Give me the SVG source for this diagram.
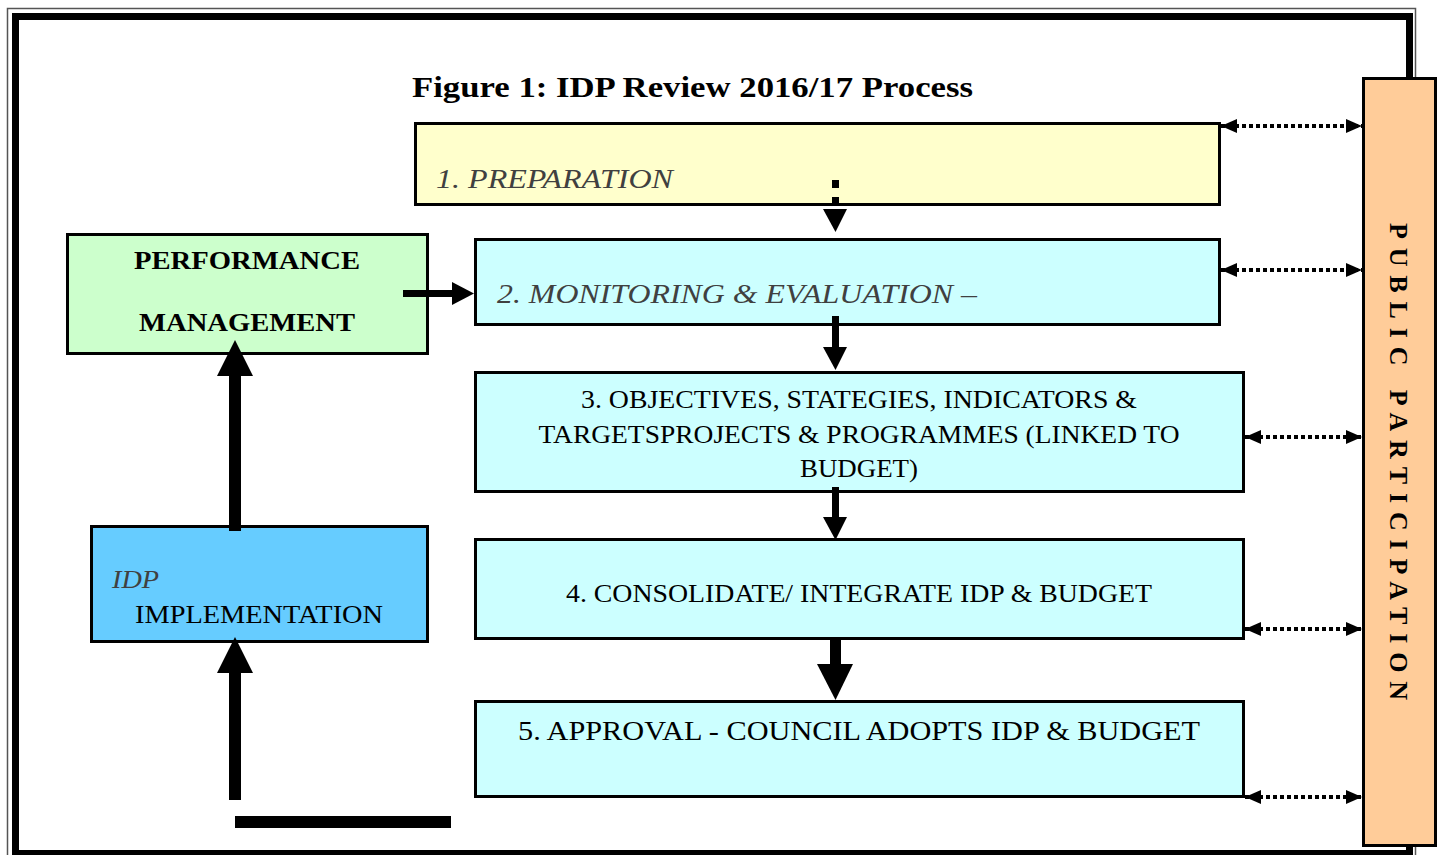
<svg xmlns="http://www.w3.org/2000/svg" width="1441" height="855" viewBox="0 0 1441 855">
<style>
.box{stroke:#000;stroke-width:3}
.t{font-family:"Liberation Serif","DejaVu Serif",serif;fill:#000}
.it{font-family:"Liberation Serif","DejaVu Serif",serif;font-style:italic;fill:#404040}
.b{font-weight:bold}
.dot{fill:none;stroke:#000;stroke-width:4;stroke-dasharray:4 3}
.shaft{fill:none;stroke:#000}
.head{fill:#000}
</style>
<defs>
<marker id="ah" markerUnits="userSpaceOnUse" markerWidth="18" markerHeight="18" viewBox="0 0 18 18" refX="16" refY="9" orient="auto-start-reverse">
<path d="M0,2 L16,9 L0,16 z" fill="#000"/>
</marker>
</defs>
<rect width="1441" height="855" fill="#fff"/>
<g id="frame">
<rect x="7.5" y="8.5" width="1408" height="852" fill="none" stroke="#555" stroke-width="1.5"/>
<rect x="15.5" y="16.5" width="1394" height="837" fill="none" stroke="#000" stroke-width="7"/>
</g>
<text id="title" class="t b" x="412" y="97" font-size="30" textLength="561" lengthAdjust="spacingAndGlyphs">Figure 1: IDP Review 2016/17 Process</text>
<g id="n1"><rect class="box" x="415.5" y="123.5" width="804" height="81" fill="#FFFFCC"/>
<text class="it" x="436" y="188" font-size="28" textLength="237" lengthAdjust="spacingAndGlyphs">1. PREPARATION</text></g>
<g id="n2"><rect class="box" x="475.5" y="239.5" width="744" height="85" fill="#CCFFFF"/>
<text class="it" x="497" y="303" font-size="28" textLength="480" lengthAdjust="spacingAndGlyphs">2. MONITORING &amp; EVALUATION –</text></g>
<g id="n3"><rect class="box" x="475.5" y="372.5" width="768" height="119" fill="#CCFFFF"/>
<text class="t" font-size="25" text-anchor="middle"><tspan x="859" y="408" textLength="556" lengthAdjust="spacingAndGlyphs">3. OBJECTIVES, STATEGIES, INDICATORS &amp;</tspan><tspan x="859" y="443" textLength="641" lengthAdjust="spacingAndGlyphs">TARGETSPROJECTS &amp; PROGRAMMES (LINKED TO</tspan><tspan x="859" y="477" textLength="118" lengthAdjust="spacingAndGlyphs">BUDGET)</tspan></text></g>
<g id="n4"><rect class="box" x="475.5" y="539.5" width="768" height="99" fill="#CCFFFF"/>
<text class="t" x="859" y="602" font-size="25" text-anchor="middle" textLength="586" lengthAdjust="spacingAndGlyphs">4. CONSOLIDATE/ INTEGRATE IDP &amp; BUDGET</text></g>
<g id="n5"><rect class="box" x="475.5" y="701.5" width="768" height="95" fill="#CCFFFF"/>
<text class="t" x="859" y="740" font-size="27" text-anchor="middle" textLength="682" lengthAdjust="spacingAndGlyphs">5. APPROVAL - COUNCIL ADOPTS IDP &amp; BUDGET</text></g>
<g id="perf"><rect class="box" x="67.5" y="234.5" width="360" height="119" fill="#CCFFCC"/>
<text class="t b" font-size="26" text-anchor="middle"><tspan x="247" y="269" textLength="226" lengthAdjust="spacingAndGlyphs">PERFORMANCE</tspan><tspan x="247" y="331" textLength="216" lengthAdjust="spacingAndGlyphs">MANAGEMENT</tspan></text></g>
<g id="impl"><rect class="box" x="91.5" y="526.5" width="336" height="115" fill="#66CCFF"/>
<text class="it" x="112" y="588" font-size="26" textLength="47" lengthAdjust="spacingAndGlyphs">IDP</text>
<text class="t" x="135" y="623" font-size="26" textLength="248" lengthAdjust="spacingAndGlyphs">IMPLEMENTATION</text></g>
<g id="public"><rect class="box" x="1363.5" y="78.5" width="72" height="767" fill="#FFCC99"/>
<text class="t b" font-size="26" transform="translate(1390,223) rotate(90)" x="0" y="0" textLength="477" lengthAdjust="spacing">PUBLIC PARTICIPATION</text></g>
<g id="connectors">
<path class="dot" d="M1221,126 H1362" marker-start="url(#ah)" marker-end="url(#ah)"/>
<path class="dot" d="M1221,270 H1362" marker-start="url(#ah)" marker-end="url(#ah)"/>
<path class="dot" d="M1245,437 H1362" marker-start="url(#ah)" marker-end="url(#ah)"/>
<path class="dot" d="M1245,629 H1362" marker-start="url(#ah)" marker-end="url(#ah)"/>
<path class="dot" d="M1245,797 H1362" marker-start="url(#ah)" marker-end="url(#ah)"/>
<path class="shaft" d="M835.5,180 V206" stroke-width="7" stroke-dasharray="8 9"/>
<polygon class="head" points="823,209 847,209 835.5,232"/>
<path class="shaft" d="M835.5,316 V349" stroke-width="7"/>
<polygon class="head" points="823,347 847,347 835.5,370"/>
<path class="shaft" d="M835.5,487 V519" stroke-width="7"/>
<polygon class="head" points="823,517 847,517 835.5,540"/>
<path class="shaft" d="M835.5,637 V666" stroke-width="11"/>
<polygon class="head" points="817,664 853,664 835.5,700"/>
<path class="shaft" d="M403,293.5 H454" stroke-width="7"/>
<polygon class="head" points="452,282 452,305 474,293.5"/>
<path class="shaft" d="M235,531 V374" stroke-width="12"/>
<polygon class="head" points="217,376 253,376 235,340"/>
<path class="shaft" d="M235,800 V671" stroke-width="12"/>
<polygon class="head" points="217,673 253,673 235,637"/>
<path class="shaft" d="M235,822 H451" stroke-width="12"/>
</g>
</svg>
